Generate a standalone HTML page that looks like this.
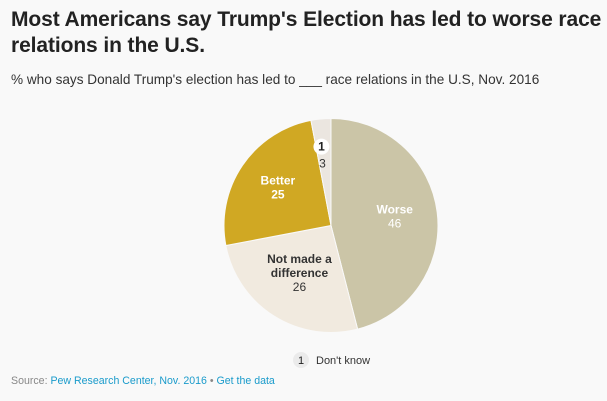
<!DOCTYPE html>
<html><head><meta charset="utf-8"><style>
body{margin:0;width:607px;height:401px;background:#f9f9f9;font-family:"Liberation Sans",sans-serif;overflow:hidden;position:relative}
.t{position:absolute;left:11px;top:7px;font-size:21px;font-weight:bold;color:#222;line-height:26px;letter-spacing:-0.1px}
.s{position:absolute;left:11px;top:72px;font-size:13.6px;color:#333}
.src{position:absolute;left:11px;top:375px;font-size:10.6px;color:#888}
.src span{color:#1a9bcb}
</style></head><body>
<div class="t">Most Americans say Trump's Election has led to worse race<br>relations in the U.S.</div>
<div class="s">% who says Donald Trump's election has led to ___ race relations in the U.S, Nov. 2016</div>
<svg id="pie" width="607" height="401" style="position:absolute;left:0;top:0"></svg>
<div class="src">Source: <span>Pew Research Center, Nov. 2016</span> • <span>Get the data</span></div>
<script>
const categories=["Worse","Not made a difference","Better","Don't know"];
const values=[46,26,25,3];
const colors=["#cbc5a7","#f1eadf","#d0a823","#ebe6e0"];
const NS="http://www.w3.org/2000/svg";
const svg=document.getElementById('pie');
const cx=331,cy=225.5,r=107;
const total=values.reduce((a,b)=>a+b,0);
function pt(a,rr){return [cx+rr*Math.sin(a),cy-rr*Math.cos(a)];}
function mk(tag,at){const e=document.createElementNS(NS,tag);for(const k in at)e.setAttribute(k,at[k]);svg.appendChild(e);return e;}
let a0=0;const mids=[];
values.forEach((v,i)=>{
 const a1=a0+v/total*2*Math.PI;
 const p0=pt(a0,r),p1=pt(a1,r);
 const large=(a1-a0)>Math.PI?1:0;
 const p=mk('path',{d:`M${cx},${cy}L${p0[0]},${p0[1]}A${r},${r} 0 ${large} 1 ${p1[0]},${p1[1]}Z`,fill:colors[i],stroke:'#f9f9f9','stroke-width':1});
 
 
 mids.push((a0+a1)/2);a0=a1;
});
function txt(x,y,s,o){const e=mk('text',Object.assign({x:x,y:y,'text-anchor':'middle','font-size':12,'font-family':'Liberation Sans, sans-serif'},o));e.textContent=s;return e;}
let q=pt(mids[0],r*0.6);
let e=txt(q[0],q[1]-4,categories[0],{fill:'#fff','font-weight':'bold'});

e=txt(q[0],q[1]+10,values[0],{fill:'#fff'});

q=pt(mids[1],r*0.55);
e=txt(q[0],q[1]-12,"Not made a",{fill:'#333','font-weight':'bold'});

e=txt(q[0],q[1]+2,"difference",{fill:'#333','font-weight':'bold'});

e=txt(q[0],q[1]+16,values[1],{fill:'#333'});

q=pt(mids[2],r*0.6);
e=txt(q[0],q[1]-5,categories[2],{fill:'#fff','font-weight':'bold'});

e=txt(q[0],q[1]+9,values[2],{fill:'#fff','font-weight':'bold'});

q=pt(mids[3],r*0.75);
e=mk('circle',{cx:q[0]-2,cy:q[1]+1,r:8,fill:'#fff'});

e=txt(q[0]-2,q[1]+5,"1",{fill:'#222','font-weight':'bold'});

e=txt(q[0]-1,q[1]+22,values[3],{fill:'#333'});

e=mk('circle',{cx:301,cy:360,r:8,fill:'#ebebeb'});

e=txt(301,364,"1",{fill:'#222','font-size':11});

e=txt(316,364,categories[3],{fill:'#333','font-size':11,'text-anchor':'start'});

</script>
</body></html>
